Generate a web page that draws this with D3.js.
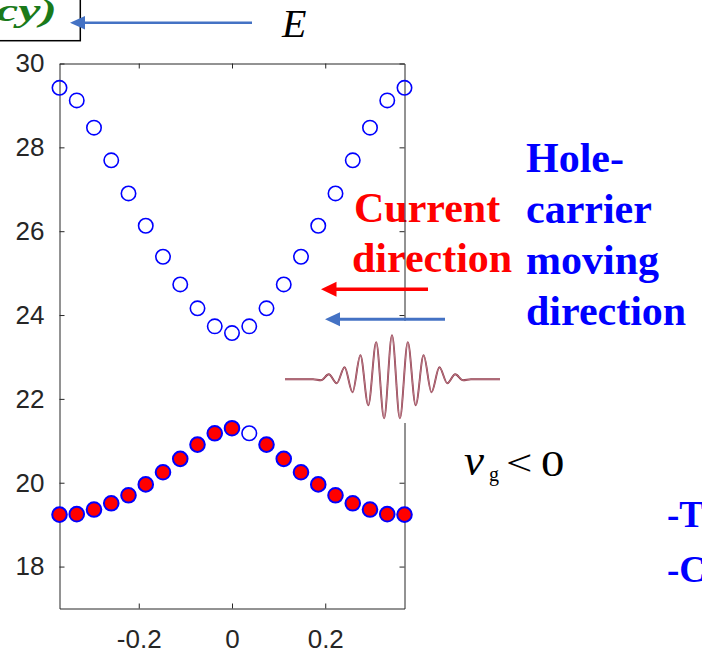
<!DOCTYPE html>
<html>
<head>
<meta charset="utf-8">
<script src="https://cdn.jsdelivr.net/npm/d3@7"></script>
<style>
  body { margin: 0; background: #fff; }
  svg { display: block; }
</style>
</head>
<body>
<svg id="chart" width="702" height="649"></svg>
<script>
// Wave vector samples along the band
const kValues = [-0.37, -0.333, -0.296, -0.259, -0.222, -0.185, -0.148, -0.111, -0.074, -0.037,
                 0, 0.037, 0.074, 0.111, 0.148, 0.185, 0.222, 0.259, 0.296, 0.333, 0.37];
// Upper (empty) band energies
const upperBand = [29.42, 29.12, 28.47, 27.69, 26.90, 26.13, 25.39, 24.73, 24.16, 23.73,
                   23.57, 23.73, 24.16, 24.73, 25.39, 26.13, 26.90, 27.69, 28.47, 29.12, 29.42];
// Lower band energies
const lowerBand = [19.24, 19.25, 19.36, 19.51, 19.70, 19.96, 20.25, 20.57, 20.91, 21.18,
                   21.30, 21.18, 20.91, 20.57, 20.25, 19.96, 19.70, 19.51, 19.36, 19.25, 19.24];
// Occupation of the lower band states (one hole)
const lowerOccupied = [true, true, true, true, true, true, true, true, true, true,
                       true, false, true, true, true, true, true, true, true, true, true];
const xTicks = [-0.2, 0, 0.2];
const yTicks = [18, 20, 22, 24, 26, 28, 30];

// Wave packet sketch: successive extrema (half-wavelength apart), upward positive
const wavePacketExtrema = [-1, 5, -4, 12, -13, 24, -26, 37, -39, 44, -39, 37, -26, 24, -13, 12, -4, 5, -1];

const svg = d3.select("#chart");
const serif = "'Liberation Serif', 'Times New Roman', serif";
const sans = "'Liberation Sans', Arial, Helvetica, sans-serif";
const axisColor = "#262626";

const x = d3.scaleLinear().domain([-0.37, 0.37]).range([59.5, 404.5]);
const y = d3.scaleLinear().domain([17, 30]).range([608.5, 63.5]);

// ---- Annotation text (drawn under the axes) ----
function label(txt, px, py, opts) {
  const t = svg.append("text")
    .attr("x", px).attr("y", py)
    .attr("font-family", opts.family || serif)
    .attr("font-size", opts.size)
    .attr("font-weight", opts.weight || "normal")
    .attr("font-style", opts.style || "normal")
    .attr("fill", opts.fill || "#000")
    .text(txt);
  if (opts.anchor) t.attr("text-anchor", opts.anchor);
  return t;
}

label("Current", 354, 221.7, {size: 42, weight: "bold", fill: "#ff0000"});
label("direction", 352, 271.7, {size: 42, weight: "bold", fill: "#ff0000"});

label("Hole-", 526, 171.7, {size: 42, weight: "bold", fill: "#0000ff"});
label("carrier", 526, 222.7, {size: 42, weight: "bold", fill: "#0000ff"});
label("moving", 526, 274, {size: 42, weight: "bold", fill: "#0000ff"});
label("direction", 526, 325, {size: 42, weight: "bold", fill: "#0000ff"});

label("-T", 667, 527, {size: 37, weight: "bold", fill: "#0000ff"});
label("-C", 667, 582, {size: 37, weight: "bold", fill: "#0000ff"});

// Boxed title fragment at the top left
svg.append("rect")
  .attr("x", -5).attr("y", -5).attr("width", 85.3).attr("height", 45.7)
  .attr("fill", "none").attr("stroke", "#000").attr("stroke-width", 1.5);
label("cy)", -4, 21, {size: 31, weight: "bold", style: "italic", fill: "#1a7a1a"})
  .attr("textLength", 61).attr("lengthAdjust", "spacingAndGlyphs");

label("E", 282, 37.3, {size: 40, style: "italic"});

// v_g < 0
label("v", 464, 475, {size: 45, style: "italic"});
label("g", 489, 481, {size: 20});
svg.append("g").attr("transform", "translate(506,475) scale(1.3,1)")
  .append("text").attr("font-family", serif).attr("font-size", 36).text("<");
svg.append("g").attr("transform", "translate(541,476) scale(1.3,1)")
  .append("text").attr("font-family", serif).attr("font-size", 36).text("0");

// ---- Axes (boxed, inward ticks) ----
function styleAxis(g) {
  g.attr("font-family", sans).attr("font-size", 26);
  g.select(".domain").attr("stroke", axisColor).attr("stroke-width", 1);
  g.selectAll(".tick line").attr("stroke", axisColor).attr("stroke-width", 1);
  g.selectAll(".tick text").attr("fill", axisColor);
}

svg.append("g")
  .attr("transform", `translate(${x.range()[0]},0)`)
  .call(d3.axisLeft(y).tickValues(yTicks).tickSize(-5).tickSizeOuter(0).tickPadding(15)
        .tickFormat(d3.format("d")))
  .call(styleAxis);

svg.append("g")
  .attr("transform", `translate(${x.range()[1]},0)`)
  .call(d3.axisRight(y).tickValues(yTicks).tickSize(-5).tickSizeOuter(0).tickFormat(""))
  .call(styleAxis);

svg.append("g")
  .attr("transform", `translate(0,${y.range()[0]})`)
  .call(d3.axisBottom(x).tickValues(xTicks).tickSize(-5).tickSizeOuter(0).tickPadding(21)
        .tickFormat(d => d === 0 ? "0" : String(d)))
  .call(styleAxis);

svg.append("g")
  .attr("transform", `translate(0,${y.range()[1]})`)
  .call(d3.axisTop(x).tickValues(xTicks).tickSize(-5).tickSizeOuter(0).tickFormat(""))
  .call(styleAxis);

// ---- Band markers ----
svg.append("g").selectAll("circle")
  .data(kValues.map((k, i) => ({k, e: upperBand[i]})))
  .join("circle")
  .attr("cx", d => x(d.k)).attr("cy", d => y(d.e)).attr("r", 7.2)
  .attr("fill", "none").attr("stroke", "#0000ff").attr("stroke-width", 1.6);

svg.append("g").selectAll("circle")
  .data(kValues.map((k, i) => ({k, e: lowerBand[i], occ: lowerOccupied[i]})))
  .join("circle")
  .attr("cx", d => x(d.k)).attr("cy", d => y(d.e)).attr("r", 7.3)
  .attr("fill", d => d.occ ? "#ff0000" : "none")
  .attr("stroke", "#0000ff").attr("stroke-width", d => d.occ ? 2 : 1.6);

// ---- Wave packet with its white backdrop ----
svg.append("rect").attr("x", 280).attr("y", 321).attr("width", 226).attr("height", 102).attr("fill", "#fff");

const waveCx = 392, waveCy = 379.3, halfWave = 7.9;
const wavePts = [[-107, 0], [-(wavePacketExtrema.length + 1) / 2 * halfWave, 0]];
wavePacketExtrema.forEach((a, i) => {
  wavePts.push([(i - (wavePacketExtrema.length - 1) / 2) * halfWave, a]);
});
wavePts.push([(wavePacketExtrema.length + 1) / 2 * halfWave, 0], [108, 0]);
const waveLine = d3.line().x(d => waveCx + d[0]).y(d => waveCy - d[1]).curve(d3.curveMonotoneX);
svg.append("path").attr("d", waveLine(wavePts))
  .attr("fill", "none").attr("stroke", "#8a3344").attr("stroke-width", 1.9);
svg.append("path").attr("d", waveLine(wavePts))
  .attr("fill", "none").attr("stroke", "#d9a6b0").attr("stroke-width", 0.6);

// ---- Direction arrows ----
function arrow(xFrom, xTo, yy, color, width, headLen, headHalf) {
  svg.append("line")
    .attr("x1", xFrom).attr("x2", xTo + headLen - 1).attr("y1", yy).attr("y2", yy)
    .attr("stroke", color).attr("stroke-width", width);
  svg.append("path")
    .attr("d", `M${xTo},${yy} L${xTo + headLen},${yy - headHalf} L${xTo + headLen},${yy + headHalf} Z`)
    .attr("fill", color);
}
arrow(252, 70, 22.7, "#4472c4", 2.6, 15, 6.7);
arrow(428, 321, 289.3, "#ff0000", 3.5, 15.5, 7.5);
arrow(445, 325, 319.3, "#4472c4", 3, 15, 7);
</script>
</body>
</html>
